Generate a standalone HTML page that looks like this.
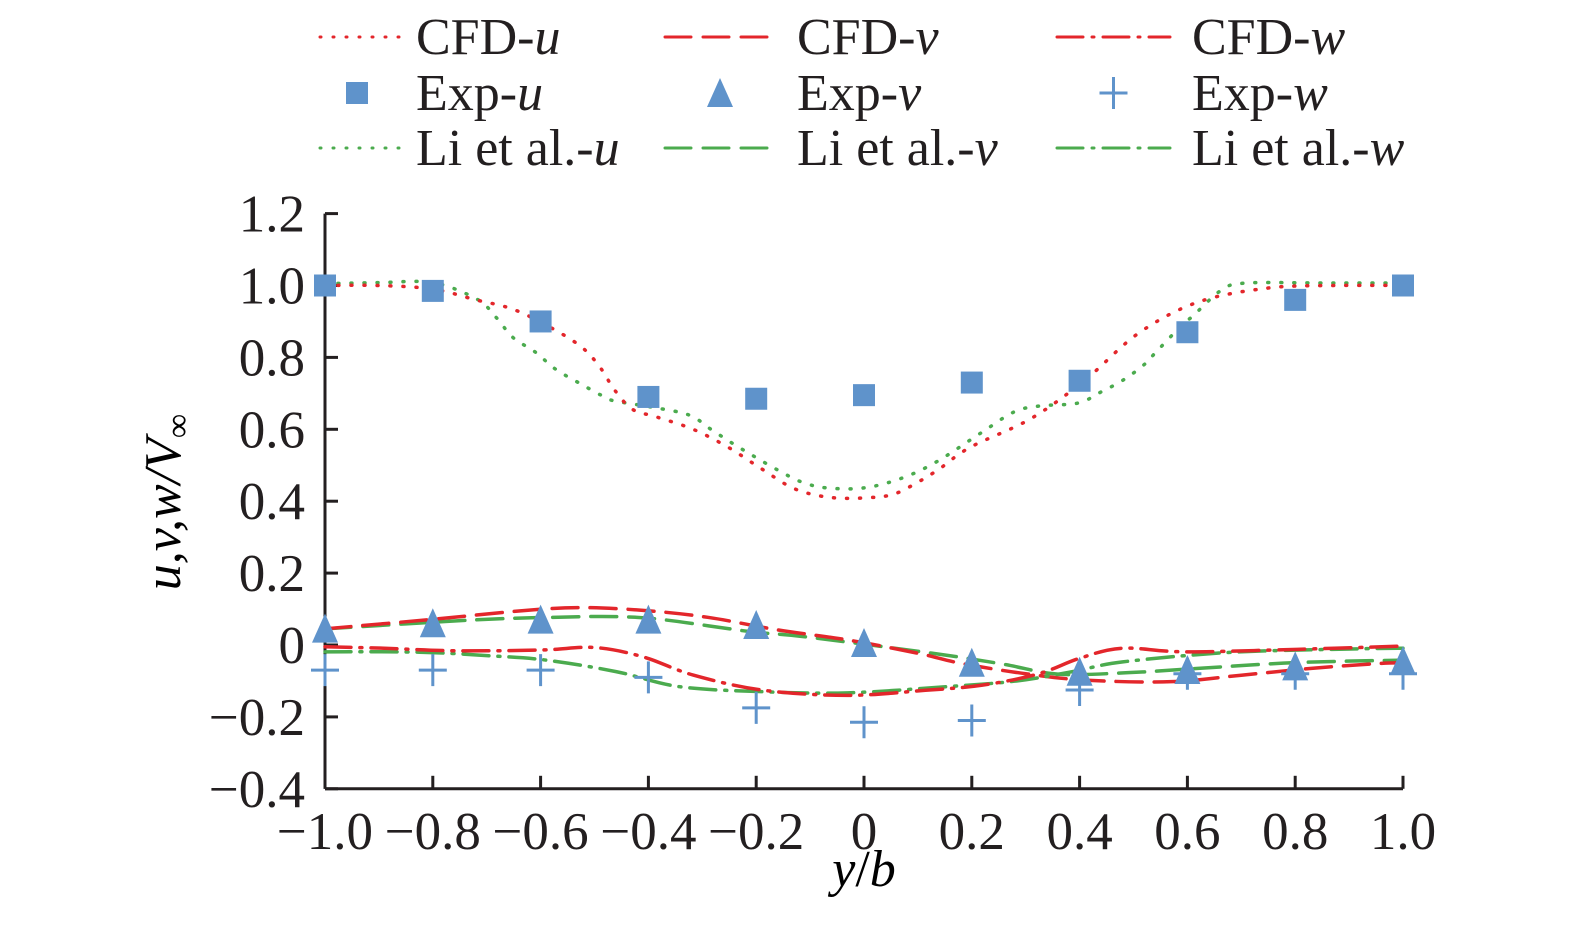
<!DOCTYPE html>
<html><head><meta charset="utf-8"><style>
body{margin:0;background:#fff;}
svg{display:block;font-family:"Liberation Serif",serif;}
</style></head><body>
<svg id="chart" width="1575" height="935" viewBox="0 0 1575 935">
<g id="legend"></g>
<g id="axes"></g>
<g id="series"></g>
<text x="864" y="886" font-size="52" text-anchor="middle"><tspan font-style="italic">y</tspan>/<tspan font-style="italic">b</tspan></text>
<text transform="translate(180,502) rotate(-90)" font-size="52" text-anchor="middle" font-style="italic">u,v,w/V<tspan font-style="normal" font-size="34" dy="9">∞</tspan></text>
</svg>
<script>
const xTicks=[-1,-0.8,-0.6,-0.4,-0.2,0,0.2,0.4,0.6,0.8,1];
const xTickLabels=["−1.0","−0.8","−0.6","−0.4","−0.2","0","0.2","0.4","0.6","0.8","1.0"];
const yTicks=[1.2,1.0,0.8,0.6,0.4,0.2,0,-0.2,-0.4];
const yTickLabels=["1.2","1.0","0.8","0.6","0.4","0.2","0","−0.2","−0.4"];
const expX=[-1,-0.8,-0.6,-0.4,-0.2,0,0.2,0.4,0.6,0.8,1];
const expU=[1.0,0.985,0.9,0.69,0.685,0.695,0.73,0.735,0.87,0.96,1.0];
const expV=[0.04,0.055,0.065,0.065,0.05,0.0,-0.055,-0.08,-0.075,-0.065,-0.05];
const expW=[-0.07,-0.07,-0.07,-0.09,-0.175,-0.215,-0.21,-0.125,-0.08,-0.08,-0.08];
const cfdUX=[-1,-0.9,-0.8,-0.72,-0.653,-0.586,-0.525,-0.49,-0.463,-0.43,-0.384,-0.317,-0.252,-0.19,-0.128,-0.06,0.01,0.056,0.1,0.14,0.197,0.31,0.41,0.51,0.62,0.75,0.87,1];
const cfdU=[1.0,1.0,0.99,0.96,0.935,0.887,0.83,0.773,0.71,0.656,0.634,0.60,0.55,0.49,0.434,0.41,0.41,0.42,0.453,0.49,0.55,0.63,0.737,0.868,0.954,0.993,1.0,1.0];
const liUX=[-1,-0.9,-0.8,-0.718,-0.683,-0.651,-0.61,-0.573,-0.53,-0.488,-0.466,-0.395,-0.325,-0.284,-0.243,-0.202,-0.158,-0.115,-0.069,0,0.07,0.135,0.217,0.278,0.326,0.397,0.44,0.484,0.523,0.54,0.59,0.61,0.664,0.71,0.85,1];
const liU=[1.005,1.008,1.008,0.962,0.912,0.855,0.815,0.768,0.73,0.695,0.68,0.662,0.64,0.60,0.56,0.523,0.485,0.453,0.437,0.437,0.464,0.51,0.59,0.648,0.665,0.673,0.704,0.74,0.784,0.812,0.89,0.915,0.988,1.007,1.007,1.007];
const cfdVX=[-1,-0.811,-0.629,-0.524,-0.407,-0.29,-0.16,-0.03,0.1,0.18,0.3,0.414,0.57,0.7,0.83,0.96,1];
const cfdV=[0.045,0.07,0.096,0.104,0.096,0.077,0.042,0.014,-0.023,-0.051,-0.08,-0.098,-0.102,-0.084,-0.065,-0.051,-0.05];
const liVX=[-1,-0.72,-0.577,-0.46,-0.37,-0.21,-0.11,0.127,0.257,0.36,0.49,0.62,0.8,1];
const liV=[0.045,0.07,0.077,0.079,0.07,0.037,0.023,-0.023,-0.053,-0.081,-0.077,-0.065,-0.049,-0.042];
const cfdWX=[-1,-0.89,-0.76,-0.6,-0.5,-0.41,-0.316,-0.186,-0.03,0.114,0.218,0.322,0.4,0.479,0.596,0.804,1];
const cfdW=[-0.005,-0.009,-0.016,-0.014,-0.007,-0.033,-0.084,-0.126,-0.14,-0.126,-0.112,-0.081,-0.037,-0.009,-0.019,-0.012,-0.003];
const liWX=[-1,-0.824,-0.694,-0.59,-0.46,-0.342,-0.186,-0.03,0.153,0.283,0.387,0.48,0.674,0.87,1];
const liW=[-0.019,-0.02,-0.03,-0.042,-0.074,-0.116,-0.13,-0.133,-0.116,-0.1,-0.074,-0.047,-0.021,-0.012,-0.009];

const NS="http://www.w3.org/2000/svg";
const X0=325,X1=1403,Y0=645,PXU=359.5;
function sx(v){return X0+(v+1)/2*(X1-X0);}
function sy(v){return Y0-v*PXU;}
function mk(tag,attrs,parent){const e=document.createElementNS(NS,tag);for(const k in attrs)e.setAttribute(k,attrs[k]);parent.appendChild(e);return e;}
const axes=document.getElementById('axes'),series=document.getElementById('series'),legend=document.getElementById('legend');
const yTop=sy(1.2),yBot=sy(-0.4);
let a=mk('line',{x1:X0,y1:yTop,x2:X0,y2:yBot,stroke:'#231f20','stroke-width':3},axes);


a=mk('line',{x1:X0,y1:yBot,x2:X1,y2:yBot,stroke:'#231f20','stroke-width':3},axes);


yTicks.forEach((t,i)=>{const y=sy(t);
 const tk=mk('line',{x1:X0,y1:y,x2:X0+13,y2:y,stroke:'#231f20','stroke-width':3},axes);
 
 
 const tx=mk('text',{x:X0-20,y:y+18,'font-size':53,'text-anchor':'end',fill:'#231f20'},axes);tx.textContent=yTickLabels[i];
 
 
});
xTicks.forEach((t,i)=>{const x=sx(t);
 const tk=mk('line',{x1:x,y1:yBot,x2:x,y2:yBot-13,stroke:'#231f20','stroke-width':3},axes);
 
 
 const tx=mk('text',{x:x,y:yBot+60,'font-size':53,'text-anchor':'middle',fill:'#231f20'},axes);tx.textContent=xTickLabels[i];
 
 
});
function pathD(xs,ys){const p=xs.map((x,i)=>[sx(x),sy(ys[i])]);let d='M'+p[0][0]+','+p[0][1];
 for(let i=0;i<p.length-1;i++){const p0=p[Math.max(0,i-1)],p1=p[i],p2=p[i+1],p3=p[Math.min(p.length-1,i+2)];
  const c1=[p1[0]+(p2[0]-p0[0])/6,p1[1]+(p2[1]-p0[1])/6],c2=[p2[0]-(p3[0]-p1[0])/6,p2[1]-(p3[1]-p1[1])/6];
  d+=' C'+c1[0]+','+c1[1]+' '+c2[0]+','+c2[1]+' '+p2[0]+','+p2[1];}
 return d;}
const RED='#e3262b',GREEN='#4bab4e',BLUE='#5f93cb';
const DOT='1,12',DASH='26,12',DASHDOT='26,9,2,9';
function line(xs,ys,col,dash,name){const e=mk('path',{d:pathD(xs,ys),fill:'none',stroke:col,'stroke-width':3.5,'stroke-dasharray':dash,'stroke-linecap':'round'},series);
 
 }
line(liUX,liU,GREEN,DOT,'li-u-line');
line(cfdUX,cfdU,RED,DOT,'cfd-u-line');
line(liVX,liV,GREEN,DASH,'li-v-line');
line(cfdVX,cfdV,RED,DASH,'cfd-v-line');
line(liWX,liW,GREEN,DASHDOT,'li-w-line');
line(cfdWX,cfdW,RED,DASHDOT,'cfd-w-line');
function square(cx,cy,p){return mk('rect',{x:cx-11,y:cy-11,width:22,height:22,fill:BLUE},p);}
function tri(cx,cy,p){return mk('polygon',{points:`${cx},${cy-17} ${cx-13},${cy+12} ${cx+13},${cy+12}`,fill:BLUE},p);}
function plus(cx,cy,p){return mk('path',{d:`M${cx-14},${cy}H${cx+14}M${cx},${cy-16}V${cy+16}`,stroke:BLUE,'stroke-width':3,fill:'none'},p);}
expX.forEach((x,i)=>{
 let e=plus(sx(x),sy(expW[i]),series);
 
 
 e=tri(sx(x),sy(expV[i]),series);
 
 
 e=square(sx(x),sy(expU[i]),series);
 
 
});
const legCols=[[320,400,416],[665,775,797],[1057,1170,1192]];
const legRows=[37,93,148];
const legItems=[
 ['CFD-','u','line',RED,DOT],['CFD-','v','line',RED,DASH],['CFD-','w','line',RED,DASHDOT],
 ['Exp-','u','sq'],['Exp-','v','tri'],['Exp-','w','plus'],
 ['Li et al.-','u','line',GREEN,DOT],['Li et al.-','v','line',GREEN,DASH],['Li et al.-','w','line',GREEN,DASHDOT]];
legItems.forEach((it,k)=>{const r=Math.floor(k/3),c=k%3;const [x0,x1,tx]=legCols[c];const y=legRows[r];
 const g=mk('g',{},legend);
 
 
 const mx=(x0+x1)/2;
 if(it[2]==='line')mk('line',{x1:x0,y1:y,x2:x1,y2:y,stroke:it[3],'stroke-width':3,'stroke-dasharray':it[4],'stroke-linecap':'round'},g);
 else if(it[2]==='sq')square(mx-3,y,g);
 else if(it[2]==='tri')tri(mx,y+2,g);
 else plus(mx,y,g);
 const t=mk('text',{x:tx,y:y+17,'font-size':52,fill:'#231f20'},g);
 t.innerHTML=it[0]+'<tspan font-style="italic">'+it[1]+'</tspan>';
});
</script>
</body></html>
